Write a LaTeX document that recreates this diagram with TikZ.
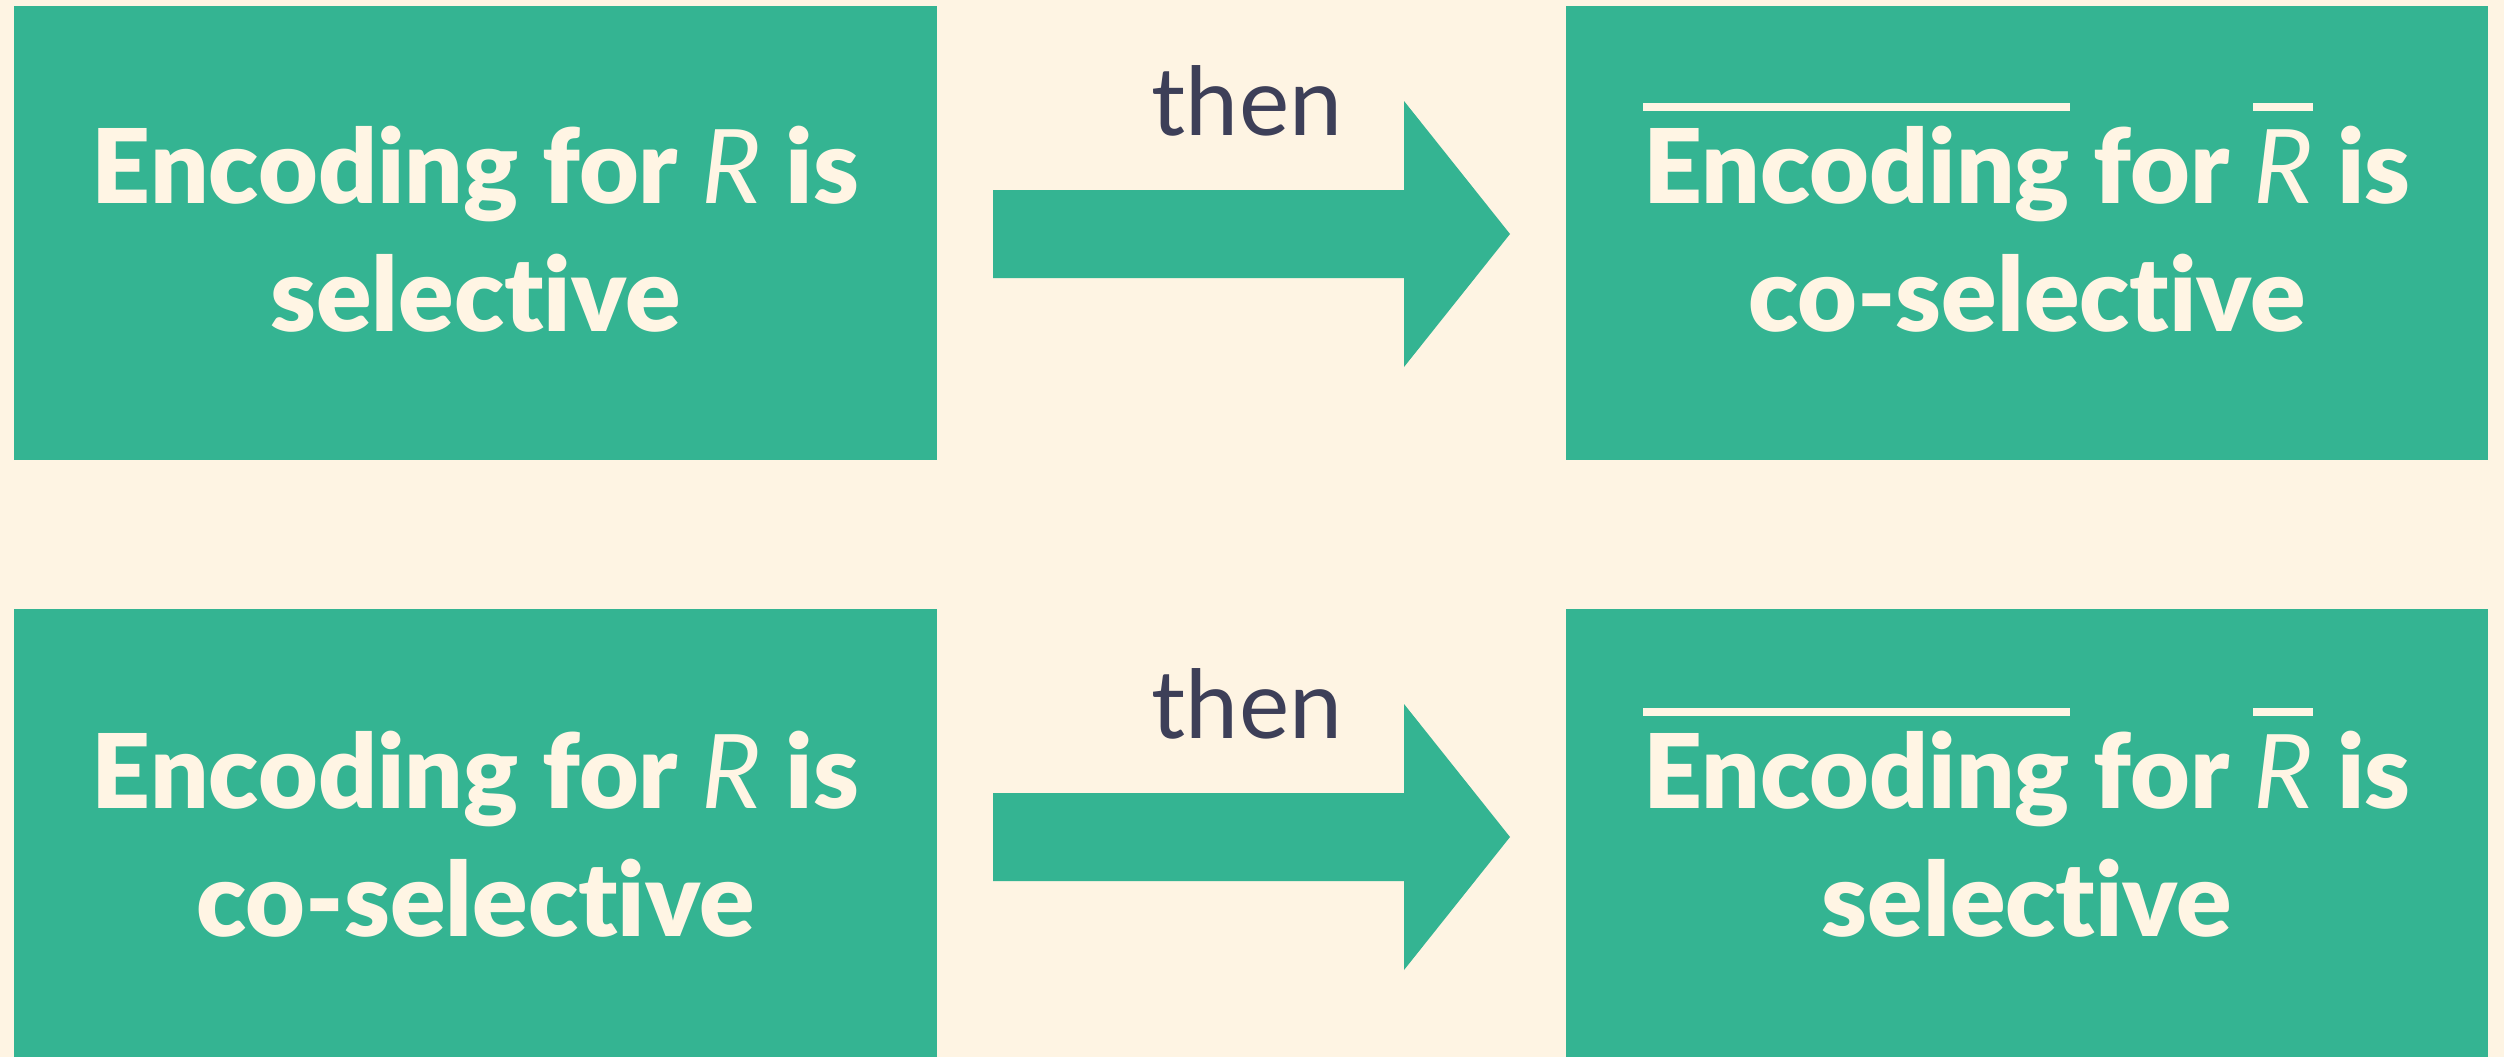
\documentclass[tikz,border=0pt]{standalone}
\usepackage{fontspec}
\IfFontExistsTF{Lato Black}{%
  \setmainfont{Lato}[Ligatures={NoCommon},BoldFont={Lato Black}]}{%
  \setmainfont{Lato}[Ligatures={NoCommon}]}
\definecolor{bgcream}{RGB}{254,244,227}
\definecolor{boxgreen}{RGB}{52,180,146}
\definecolor{txtcream}{RGB}{255,245,228}
\definecolor{darktxt}{RGB}{61,63,88}
\newcommand\myol[1]{\leavevmode\setbox0\hbox{#1}\rlap{\raisebox{92pt}[0pt][0pt]{\rule{\wd0}{8pt}}}\box0\relax}
\begin{document}
\begin{tikzpicture}[x=1pt,y=-1pt]
\tikzset{
  greenbox/.style={fill=boxgreen, draw=none, inner sep=0pt},
  boxtext/.style={text=txtcream, align=center, font=\fontsize{103}{128}\selectfont\bfseries, inner sep=0pt},
  blockarrow/.style={fill=boxgreen, draw=none},
  thenlabel/.style={text=darktxt, font=\fontsize{95}{110}\selectfont, inner sep=0pt, anchor=base}
}
\fill[bgcream] (0,0) rectangle (2504,1057);
\useasboundingbox (0,0) rectangle (2504,1057);
% boxes
\node[greenbox, minimum width=923pt, minimum height=454pt] (a1) at (475.5,233) {};
\node[greenbox, minimum width=922pt, minimum height=454pt] (b1) at (2027,233) {};
\node[greenbox, minimum width=923pt, minimum height=448pt] (a2) at (475.5,833) {};
\node[greenbox, minimum width=922pt, minimum height=448pt] (b2) at (2027,833) {};
% texts
\node[boxtext] (ta1) at ([yshift=4pt]a1.center) {Encoding for {\mdseries\itshape R} is\\selective};
\node[boxtext] (tb1) at ([yshift=4pt]b1.center) {\myol{Encoding} for \myol{\mdseries\itshape R} is\\co-selective};
\node[boxtext] (ta2) at ([yshift=-1pt]a2.center) {Encoding for {\mdseries\itshape R} is\\co-selective};
\node[boxtext] (tb2) at ([yshift=-1pt]b2.center) {\myol{Encoding} for \myol{\mdseries\itshape R} is\\selective};
% arrows
\coordinate (arr1) at (993,233);
\coordinate (arr2) at (993,836);
\fill[blockarrow] (arr1) ++(0,-43) -- ++(411,0) -- ++(0,-89) -- ++(106,133) -- ++(-106,133) -- ++(0,-89) -- ++(-411,0) -- cycle;
\fill[blockarrow] (arr2) ++(0,-43) -- ++(411,0) -- ++(0,-89) -- ++(106,133) -- ++(-106,133) -- ++(0,-89) -- ++(-411,0) -- cycle;
\node[thenlabel] (then1) at (1247,135) {then};
\node[thenlabel] (then2) at (1247,738) {then};
\end{tikzpicture}
\end{document}
